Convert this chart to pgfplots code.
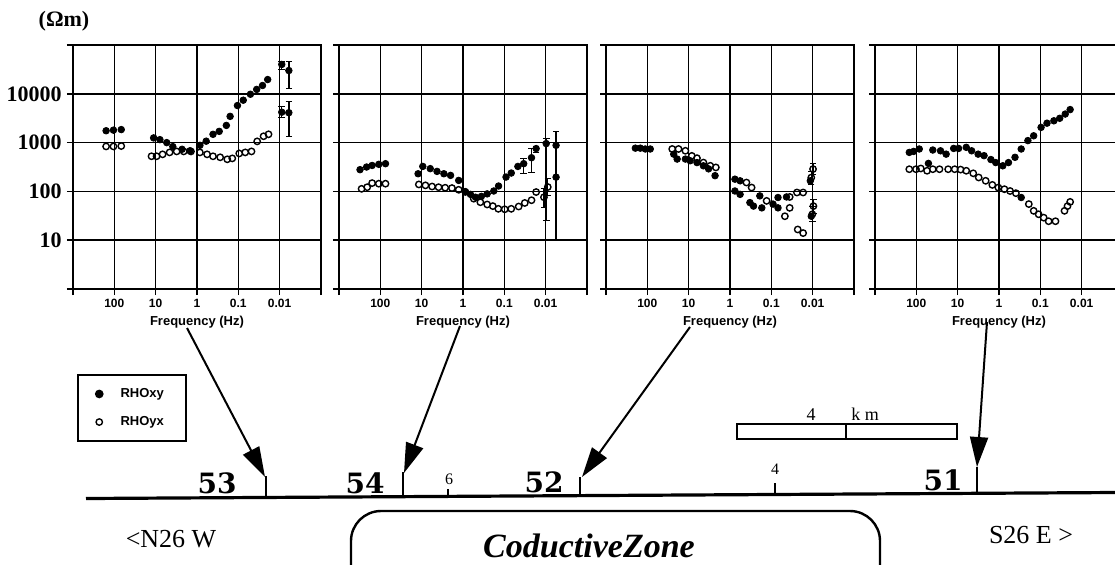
\documentclass[border=0pt]{standalone}
\usepackage{fontspec}
\setmainfont{Liberation Serif}
\setsansfont{Liberation Sans}
\newfontfamily\dvs{DejaVu Serif}
\usepackage{pgfplots}
\pgfplotsset{compat=1.18}
\usetikzlibrary{arrows.meta}
\newcommand\tickfont{\fontsize{6}{7}\selectfont\sffamily\bfseries}
\newcommand\labfont{\fontsize{6.5}{7}\selectfont\sffamily\bfseries}
\pgfplotsset{
 every axis/.append style={
  scale only axis, width=124pt, height=122pt, anchor=north west,
  xmode=log, ymode=log, x dir=reverse,
  xmin=1e-3,xmax=1e3,ymin=1,ymax=1e5,
  xtick={1000,100,10,1,0.1,0.01,0.001},
  xticklabels={{},100,10,1,0.1,0.01,{}},
  ytick={1,10,100,1000,10000,100000},
  xminorticks=false,yminorticks=false,
  grid=major,
  major grid style={line width=0.8pt,black},
  axis line style={line width=1.2pt},
  tick style={line width=0.8pt,black},
  tick align=outside, xtick pos=bottom, ytick pos=left,
  major tick length=3pt,
  xticklabel style={font=\tickfont, inner sep=1pt, yshift=-1pt},
  xlabel={Frequency (Hz)},
  xlabel style={font=\labfont, inner sep=1pt, yshift=-2pt},
 },
 rhoxy/.style={only marks, mark=*, mark size=1.65pt, black},
 rhoyx/.style={only marks, mark=o, mark size=1.6pt, black, mark options={line width=0.7pt, fill=white}},
}
\begin{document}
\begin{tikzpicture}[x=0.5pt,y=-0.5pt]
\useasboundingbox (0,0) rectangle (1115,564);
\clip (0,0) rectangle (1115,564);
% ---------- panel 53
\begin{axis}[at={(36.5pt,-22.5pt)},
  yticklabels={{},10,100,1000,10000,{}},
  yticklabel style={font=\fontsize{11}{12}\selectfont\bfseries, inner sep=1pt, xshift=-1.5pt},
  legend style={at={(0.016,-0.348)}, anchor=north west, font=\labfont, draw=black, line width=1pt,
    inner xsep=9pt, inner ysep=4.5pt, row sep=4pt, column sep=7pt},
  legend cell align=left]
\addplot[rhoxy] coordinates {(158,1750)(105,1800)(68,1850)
 (11.2,1250)(7.9,1150)(5.4,1000)(3.85,830)(2.3,730)(1.48,680)
 (0.85,880)(0.6,1070)(0.41,1480)(0.29,1700)(0.195,2250)(0.158,3450)(0.105,5750)
 (0.076,7400)(0.051,9800)(0.036,12300)(0.026,14800)(0.0195,19600)};
\addplot[rhoyx] coordinates {(158,835)(105,835)(68,850)(12.6,525)(9.5,525)(6.8,575)(4.6,630)
 (3.1,660)(2.1,660)(1.4,660)(0.85,630)(0.57,575)(0.41,525)(0.275,500)(0.185,455)(0.14,475)
 (0.095,600)(0.068,630)(0.048,660)(0.035,1060)(0.0245,1350)(0.0186,1480)};
\legend{RHOxy,RHOyx}
\addplot[rhoxy, error bars/.cd, y dir=both, y explicit,
   error bar style={line width=0.7pt,black}] coordinates {(0.0089,40000) += (0,6000) -= (0,9000)
 (0.006,30000) += (0,16000) -= (0,17000)
 (0.0089,4200) += (0,1300) -= (0,900)
 (0.006,4100) += (0,2900) -= (0,2750)};
\end{axis}
% ---------- panel 54
\begin{axis}[at={(169.5pt,-22.5pt)}, yticklabels={}]
\addplot[rhoxy] coordinates {(310,279)(215,316)(158,340)(109,359)(75,370)
 (12.2,230)(9.4,325)(6.2,293)(4.25,257)(2.9,230)(2.0,213)(1.27,168)(0.88,98)(0.66,87)
 (0.5,76)(0.36,79)(0.26,89)(0.18,102)(0.138,129)(0.091,197)(0.068,238)(0.047,325)(0.0056,196)};
\addplot[rhoxy, error bars/.cd, y dir=both, y explicit,
   error bar style={line width=0.7pt,black}] coordinates {(0.034,370) += (0,100) -= (0,140)
 (0.022,490) += (0,265) -= (0,240)
 (0.017,755) += (0,75) -= (0,110)
 (0.0097,955) += (0,250) -= (0,930)
 (0.0056,880) += (0,780) -= (0,870)};
\addplot[rhoyx] coordinates {(284,113)(208,122)(158,148)(109,144)(75,144)(11.7,139)(8.1,133)
 (5.6,126)(3.9,122)(2.7,119)(1.85,117)(1.27,108)(0.88,98)(0.55,71)(0.38,60)(0.26,54)(0.19,50)
 (0.14,44)(0.098,43)(0.068,44)(0.045,49)(0.032,58)(0.022,66)(0.017,97)};
\addplot[rhoyx, error bars/.cd, y dir=both, y explicit,
   error bar style={line width=0.7pt,black}] coordinates {(0.011,76) += (0,40) -= (0,30)
 (0.0089,123) += (0,60) -= (0,40)};
\end{axis}
% ---------- panel 52
\begin{axis}[at={(303pt,-22.5pt)}, yticklabels={}]
\addplot[rhoxy] coordinates {(195,770)(148,770)(112,740)(85,740)(23,580)(19,460)(12,460)(9.2,425)
 (6.3,390)(4.4,335)(3.3,290)(2.3,210)(0.76,178)(0.57,165)(0.76,102)(0.57,87)(0.33,59)(0.27,50)
 (0.19,81)(0.17,46)(0.091,55)(0.069,46)(0.069,75)(0.043,77)(0.0114,165)(0.0108,31)};
\addplot[rhoyx] coordinates {(25,740)(17.6,740)(12,680)(8.4,535)(6.3,480)(4.4,390)(3.0,335)(2.2,310)
 (0.4,152)(0.30,120)(0.13,64)(0.036,77)(0.036,46)(0.047,31)(0.024,95)(0.017,95)(0.023,16.6)(0.017,14)};
\addplot[rhoyx, error bars/.cd, y dir=both, y explicit,
   error bar style={line width=0.7pt,black}] coordinates {(0.0108,192) += (0,60) -= (0,50)
 (0.0098,287) += (0,80) -= (0,60)
 (0.0102,34) += (0,15) -= (0,10)
 (0.0096,50) += (0,20) -= (0,15)};
\end{axis}
% ---------- panel 51
\begin{axis}[at={(437.5pt,-22.5pt)}, yticklabels={}]
\addplot[rhoxy] coordinates {(148,630)(116,660)(85,740)(51,375)(40,705)(26,680)(19,580)(12.5,760)
 (9.5,760)(6.2,800)(4.6,680)(3.2,580)(2.3,540)(1.57,450)(1.2,390)(0.81,335)(0.59,390)(0.41,500)
 (0.29,740)(0.20,1100)(0.145,1380)(0.096,2050)(0.069,2500)(0.047,2800)(0.034,3150)(0.025,3850)
 (0.019,4750)(0.29,75)};
\addplot[rhoyx] coordinates {(148,285)(102,285)(78,295)(55,265)(40,285)(27.5,285)(17,285)(11.8,285)
 (8.5,280)(6.2,265)(4.2,235)(3.1,193)(2.1,165)(1.45,136)(1.04,120)(0.74,111)(0.54,102)(0.39,92)
 (0.19,55)(0.145,40)(0.11,34)(0.083,29)(0.063,24.5)(0.043,24.5)(0.026,40)(0.022,50)(0.019,61)};
\end{axis}
% ---------- unit label
\node[font=\fontsize{11}{12}\selectfont\bfseries] at (64,21) {(Ωm)};
% ---------- profile
\draw[line width=1.6pt] (86,498.5) -- (1115,492.5);
\draw[line width=1pt] (266,476) -- (266,497.5);
\draw[line width=1pt] (403,472) -- (403,496.5);
\draw[line width=1pt] (580,477) -- (580,495.5);
\draw[line width=1pt] (977,467) -- (977,493);
\draw[line width=1pt] (448,489) -- (448,495.5);
\draw[line width=1pt] (775,483) -- (775,494);
\node[font=\fontsize{8}{9}\selectfont, anchor=base] at (449,484) {6};
\node[font=\fontsize{8}{9}\selectfont, anchor=base] at (775,474) {4};
\begin{scope}[line width=1pt, -{Triangle[length=15pt,width=9pt]}]
\draw (187,328) -- (265,477);
\draw (460,326) -- (404,473);
\draw (690,327) -- (582,477);
\draw (987,322) -- (977,467);
\end{scope}
\node[font=\dvs\fontsize{14}{16}\selectfont\bfseries, anchor=base] at (217,493) {53};
\node[font=\dvs\fontsize{14}{16}\selectfont\bfseries, anchor=base] at (365,493) {54};
\node[font=\dvs\fontsize{14}{16}\selectfont\bfseries, anchor=base] at (544,492) {52};
\node[font=\dvs\fontsize{14}{16}\selectfont\bfseries, anchor=base] at (943,490) {51};
% scale bar
\draw[line width=1pt] (737,424) rectangle (957,439);
\draw[line width=1pt] (846,424) -- (846,439);
\node[font=\fontsize{9}{10}\selectfont, anchor=base] at (811,420) {4};
\node[font=\fontsize{9}{10}\selectfont, anchor=base] at (865,420) {k m};
% directions
\node[font=\fontsize{13}{14}\selectfont, anchor=base] at (171,547) {<N26 W};
\node[font=\fontsize{13}{14}\selectfont, anchor=base] at (1031,543) {S26 E >};
\draw[line width=1.2pt, rounded corners=15pt] (351,600) -- (351,511) -- (880,511) -- (880,600);
\node[font=\fontsize{17}{18}\selectfont\bfseries\itshape, anchor=base] at (589,557) {CoductiveZone};
\end{tikzpicture}
\end{document}
